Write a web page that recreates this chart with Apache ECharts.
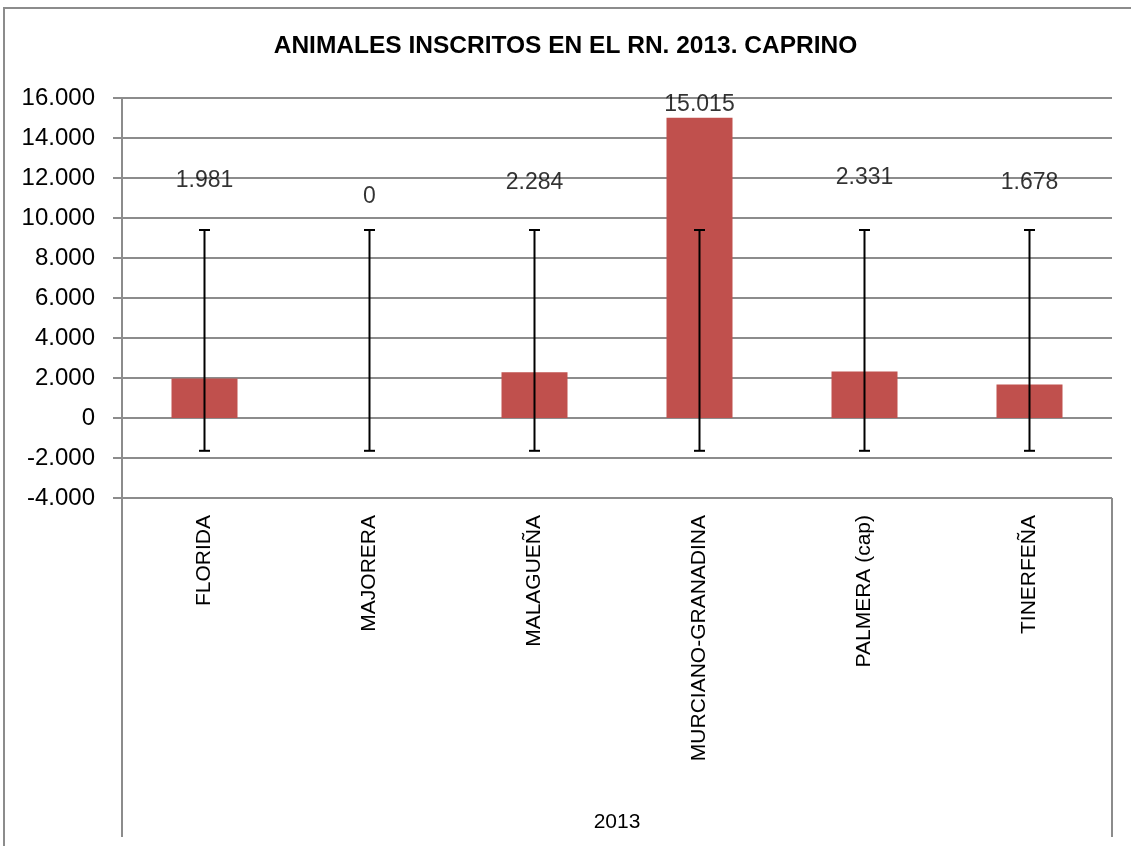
<!DOCTYPE html>
<html>
<head>
<meta charset="utf-8">
<script src="https://cdn.jsdelivr.net/npm/echarts@6/dist/echarts.min.js"></script>
<style>
html,body{margin:0;padding:0;background:#fff;}
#c{width:1131px;height:846px;}
</style>
</head>
<body>
<div id="c"></div>
<script>
var categories = ['FLORIDA', 'MAJORERA', 'MALAGUEÑA', 'MURCIANO-GRANADINA', 'PALMERA (cap)', 'TINERFEÑA'];
var values = [1981, 0, 2284, 15015, 2331, 1678];
// error bar ends (same for every category)
var errLow = [-1640, -1640, -1640, -1640, -1640, -1640];
var errHigh = [9400, 9400, 9400, 9400, 9400, 9400];
// vertical position (axis value) of each data label as placed in the picture
var labelPos = [11850, 11050, 11750, 15650, 12000, 11750];
var groupLabel = '2013';
var titleText = 'ANIMALES INSCRITOS EN EL RN. 2013. CAPRINO';

function fmt(n) {
  var s = String(Math.abs(n)).replace(/\B(?=(\d{3})+(?!\d))/g, '.');
  return (n < 0 ? '-' : '') + s;
}

var FONT = '"Liberation Sans", Arial, sans-serif';
var chart = echarts.init(document.getElementById('c'), null, {renderer: 'canvas'});

var option = {
  backgroundColor: '#fff',
  animation: false,
  title: {
    text: titleText,
    left: 'center',
    top: 28,
    textStyle: {fontFamily: FONT, fontSize: 24.5, fontWeight: 'bold', color: '#000', lineHeight: 26}
  },
  grid: {left: 122, right: 19, top: 98, bottom: 348, containLabel: false},
  xAxis: {
    type: 'category',
    data: categories,
    name: groupLabel,
    nameLocation: 'middle',
    nameGap: 314,
    nameTextStyle: {fontFamily: FONT, fontSize: 21, color: '#000'},
    axisLine: {show: false},
    axisTick: {show: false},
    axisLabel: {rotate: 90, margin: 17, fontFamily: FONT, fontSize: 21, color: '#000', interval: 0}
  },
  yAxis: {
    type: 'value',
    min: -4000, max: 16000, interval: 2000,
    axisLine: {show: true, lineStyle: {color: '#8c8c8c', width: 2}},
    axisTick: {show: true, length: 9, lineStyle: {color: '#8c8c8c', width: 2}},
    splitLine: {show: true, lineStyle: {color: '#8c8c8c', width: 2}},
    axisLabel: {margin: 27, fontFamily: FONT, fontSize: 24, color: '#000', formatter: fmt}
  },
  series: [
    {
      type: 'bar',
      data: values,
      barWidth: '40%',
      itemStyle: {color: '#C0504D'}
    },
    {
      type: 'custom',
      data: values.map(function (v, i) { return [i, errLow[i], errHigh[i]]; }),
      renderItem: function (params, api) {
        var x = api.coord([api.value(0), 0])[0];
        var lo = api.coord([api.value(0), api.value(1)])[1];
        var hi = api.coord([api.value(0), api.value(2)])[1];
        var w = 5.5;
        var st = {stroke: '#000', lineWidth: 2};
        return {
          type: 'group',
          children: [
            {type: 'line', shape: {x1: x, y1: lo, x2: x, y2: hi}, style: st},
            {type: 'line', shape: {x1: x - w, y1: lo, x2: x + w, y2: lo}, style: st},
            {type: 'line', shape: {x1: x - w, y1: hi, x2: x + w, y2: hi}, style: st}
          ]
        };
      },
      z: 5
    },
    {
      type: 'scatter',
      symbolSize: 0,
      data: values.map(function (v, i) { return [i, labelPos[i], v]; }),
      label: {
        show: true,
        position: 'inside',
        formatter: function (p) { return fmt(p.value[2]); },
        fontFamily: FONT, fontSize: 23, color: '#000', textBorderWidth: 0
      },
      z: 6
    }
  ]
};
chart.setOption(option);

// decorative frame lines: chart border, category group separators
var yBottom = chart.convertToPixel({yAxisIndex: 0}, -4000);
var leftX = 122, rightX = 1131 - 19;
chart.setOption({
  graphic: [
    {type: 'rect', shape: {x: 4, y: 8, width: 1140, height: 850}, style: {fill: 'none', stroke: '#8c8c8c', lineWidth: 2}, silent: true},
    {type: 'line', shape: {x1: leftX, y1: yBottom, x2: leftX, y2: 837}, style: {stroke: '#8c8c8c', lineWidth: 2}},
    {type: 'line', shape: {x1: rightX, y1: yBottom, x2: rightX, y2: 837}, style: {stroke: '#8c8c8c', lineWidth: 2}}
  ]
});
</script>
</body>
</html>
